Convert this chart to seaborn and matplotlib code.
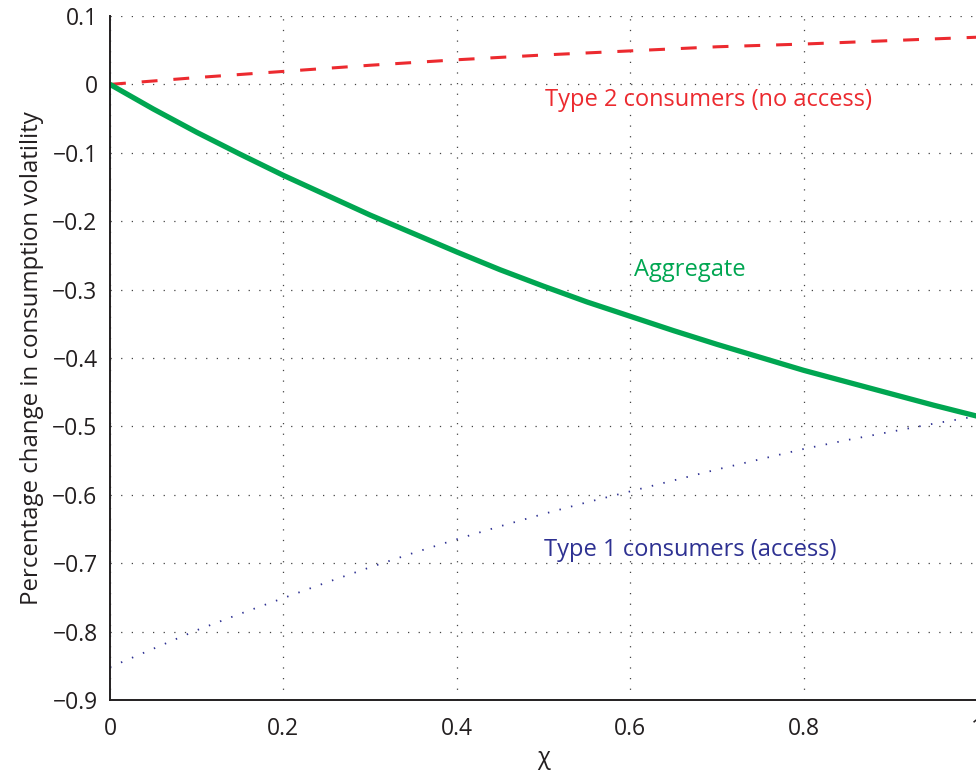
import matplotlib
matplotlib.use("Agg")
import matplotlib.pyplot as plt
import seaborn as sns
import pandas as pd

chi = [0.0, 0.05, 0.1, 0.15, 0.2, 0.25, 0.3, 0.35, 0.4, 0.45, 0.5,
       0.55, 0.6, 0.65, 0.7, 0.75, 0.8, 0.85, 0.9, 0.95, 1.0]
type2 = [0.0, 0.005, 0.010, 0.0145, 0.019, 0.0235, 0.028, 0.032, 0.036, 0.0395, 0.043,
         0.046, 0.049, 0.052, 0.055, 0.057, 0.059, 0.0615, 0.064, 0.0665, 0.069]
aggregate = [0.0, -0.036, -0.070, -0.102, -0.133, -0.162, -0.191, -0.218, -0.245, -0.271, -0.295,
             -0.318, -0.339, -0.360, -0.380, -0.399, -0.418, -0.435, -0.452, -0.469, -0.485]
type1 = [-0.852, -0.825, -0.798, -0.774, -0.751, -0.728, -0.706, -0.685, -0.665, -0.646, -0.628,
         -0.611, -0.595, -0.579, -0.563, -0.548, -0.533, -0.520, -0.508, -0.496, -0.485]

xticks = [0, 0.2, 0.4, 0.6, 0.8, 1.0]
xticklabels = ["0", "0.2", "0.4", "0.6", "0.8", "1"]
yticks = [0.1, 0, -0.1, -0.2, -0.3, -0.4, -0.5, -0.6, -0.7, -0.8, -0.9]
yticklabels = ["0.1", "0", "\u22120.1", "\u22120.2", "\u22120.3", "\u22120.4", "\u22120.5",
               "\u22120.6", "\u22120.7", "\u22120.8", "\u22120.9"]

df = pd.DataFrame({"chi": chi, "type2": type2, "aggregate": aggregate, "type1": type1})

sns.set_style("white")
plt.rcParams["font.family"] = ["Open Sans", "DejaVu Sans"]

RED = "#ec2a2f"
GREEN = "#00a651"
BLUE = "#2e3192"
INK = "#231f20"

fig = plt.figure(figsize=(9.76, 7.72), dpi=100)
ax = fig.add_axes([110 / 976, 72 / 772, 867 / 976, 684 / 772])

sns.lineplot(data=df, x="chi", y="type2", ax=ax, color=RED, linewidth=2.2)
ax.lines[-1].set_dashes((5.2, 5.2))
sns.lineplot(data=df, x="chi", y="aggregate", ax=ax, color=GREEN, linewidth=3.8)
sns.lineplot(data=df, x="chi", y="type1", ax=ax, color=BLUE, linewidth=1.3)
ax.lines[-1].set_dashes((0.8, 5.8))

ax.set_xlim(0, 1)
ax.set_ylim(-0.9, 0.1)
ax.set_xticks(xticks)
ax.set_xticklabels(xticklabels)
ax.set_yticks(yticks)
ax.set_yticklabels(yticklabels)
ax.tick_params(direction="in", length=6, width=1.2, labelsize=16.5, colors=INK)
ax.tick_params(axis="x", pad=12)
ax.tick_params(axis="y", pad=9)
ax.grid(True, linestyle=(0, (1, 7.5)), color="#444444", linewidth=0.9)
ax.set_axisbelow(True)

for s in ["top", "right"]:
    ax.spines[s].set_visible(False)
for s in ["left", "bottom"]:
    ax.spines[s].set_color(INK)
    ax.spines[s].set_linewidth(1.4)

ax.set_xlabel("\u03c7", fontsize=17, color=INK, labelpad=4)
ax.set_ylabel("Percentage change in consumption volatility", fontsize=17.3, color=INK, labelpad=6)

ax.text(0.690, -0.0234, "Type 2 consumers (no access)", color=RED, fontsize=17, ha="center", va="center")
ax.text(0.669, -0.272, "Aggregate", color=GREEN, fontsize=17, ha="center", va="center")
ax.text(0.669, -0.681, "Type 1 consumers (access)", color=BLUE, fontsize=17, ha="center", va="center")

fig.savefig("out.png", dpi=100)
